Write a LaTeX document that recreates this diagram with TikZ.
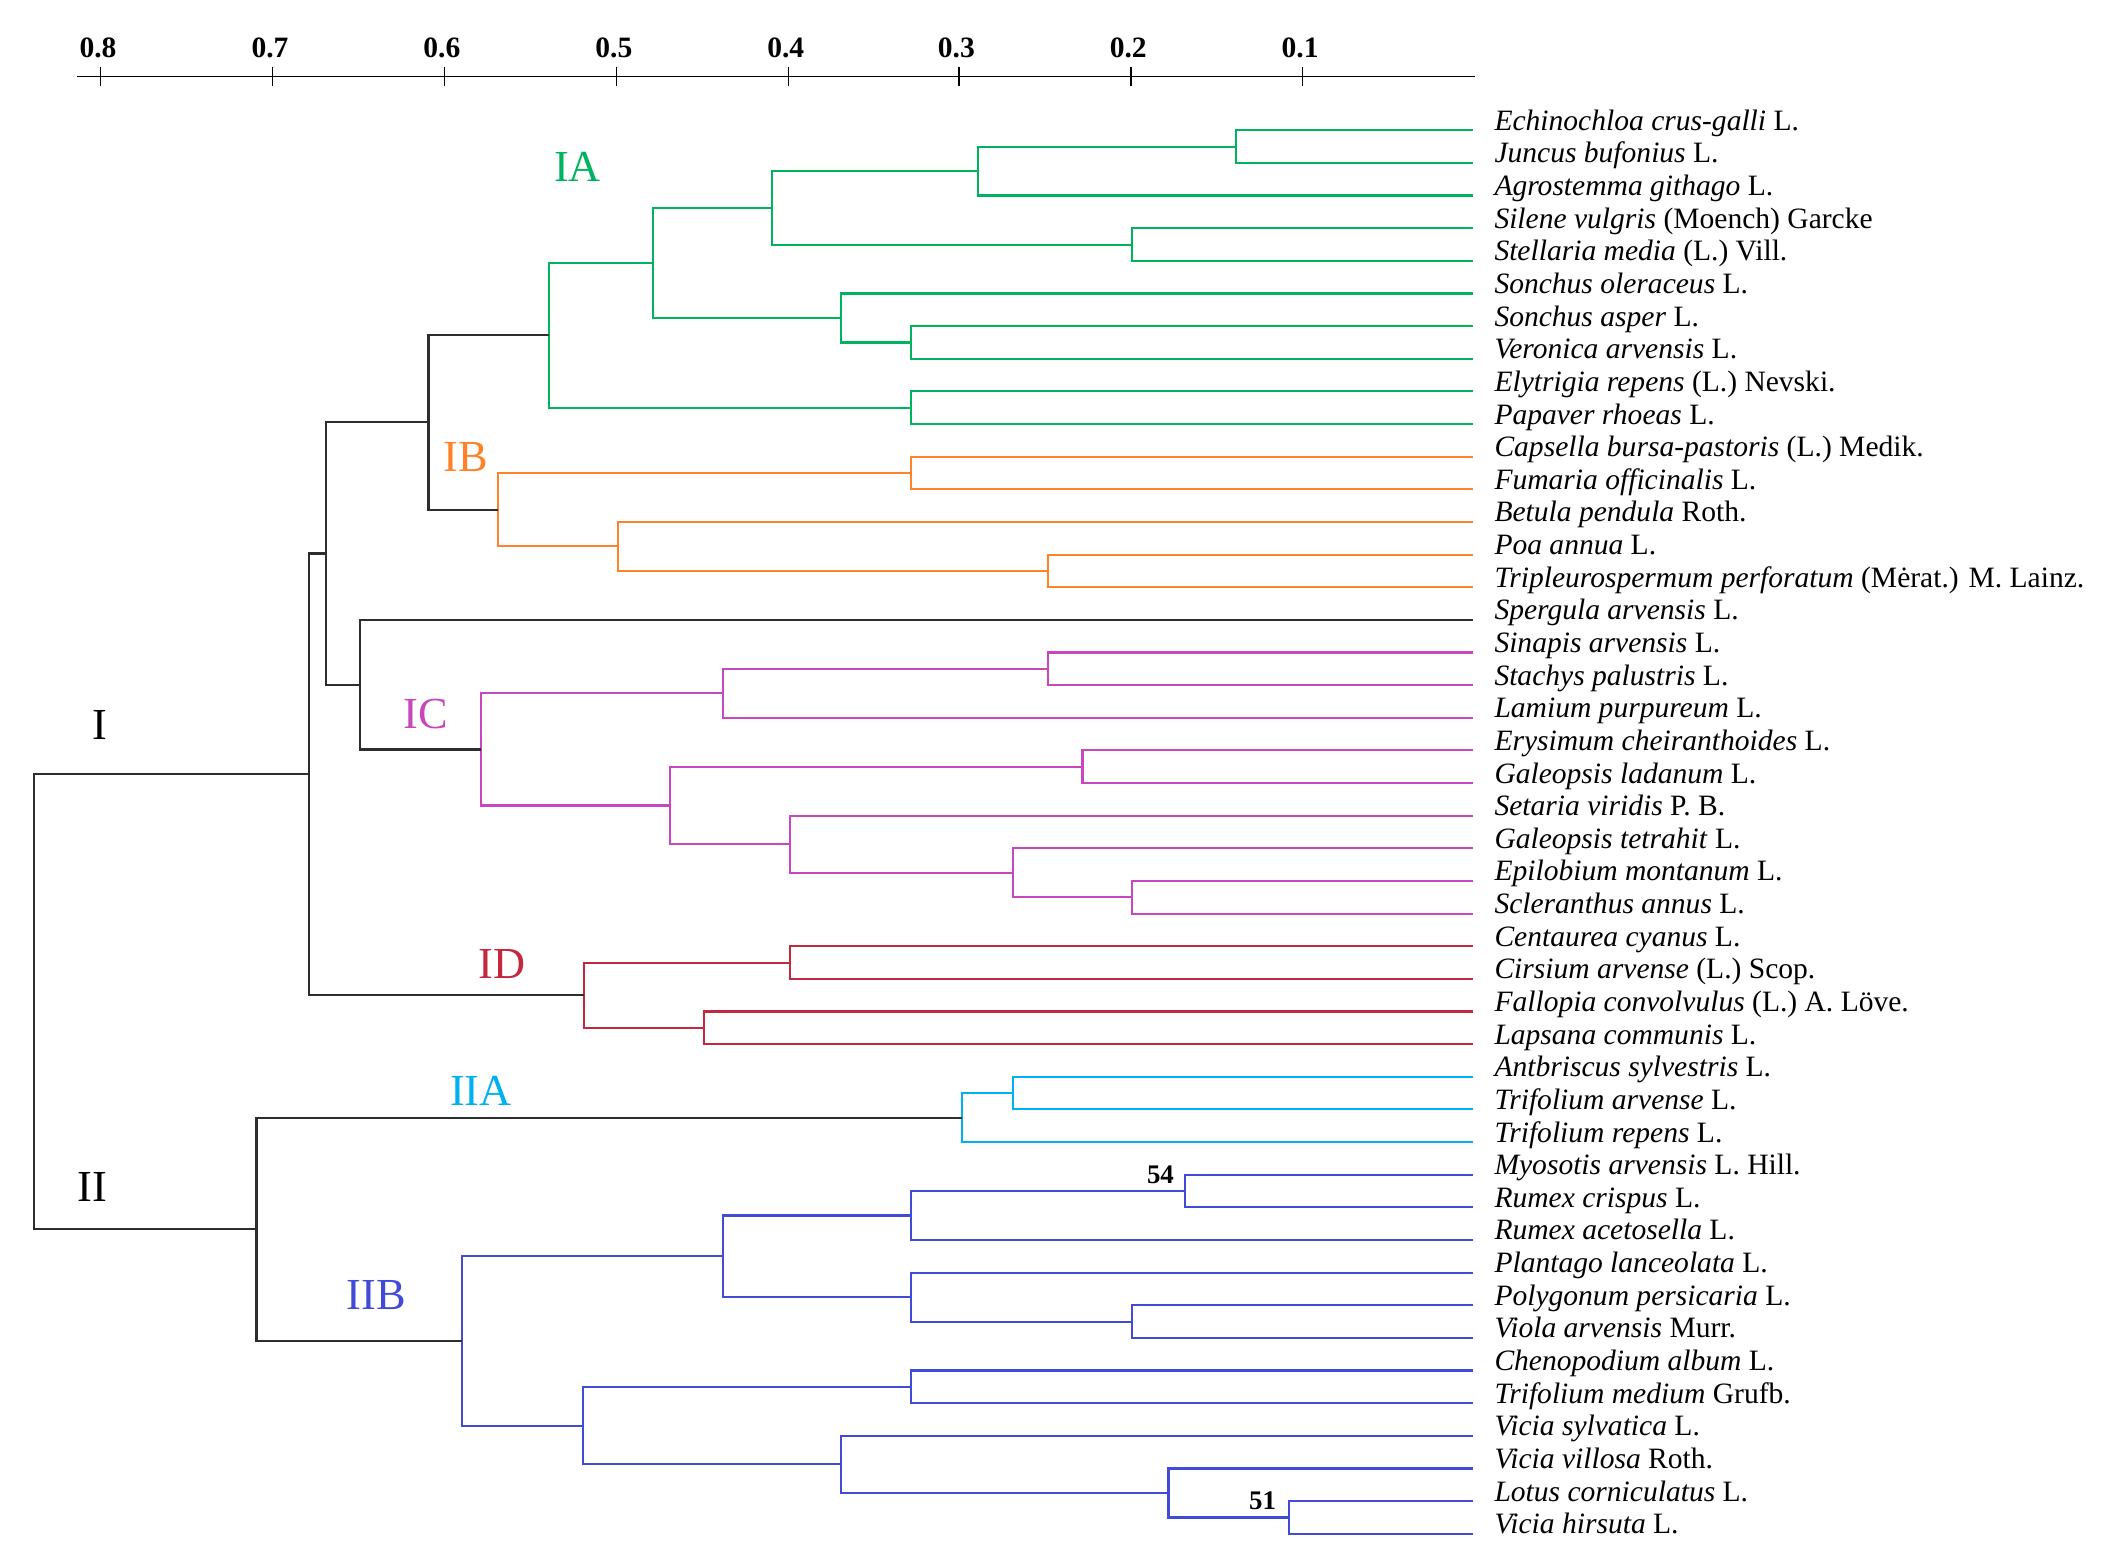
\documentclass[tikz,border=0pt]{standalone}
\usepackage{fontspec}
\usepackage{xcolor}
\usepackage{tikz}
\setmainfont{Liberation Serif}

\definecolor{clA}{RGB}{0,180,95}
\definecolor{clB}{RGB}{255,130,40}
\definecolor{clC}{RGB}{200,70,190}
\definecolor{clD}{RGB}{195,40,65}
\definecolor{clIIA}{RGB}{0,176,240}
\definecolor{clIIB}{RGB}{65,75,215}
\definecolor{trunk}{RGB}{45,45,45}

\begin{document}
\begin{tikzpicture}[x=1pt,y=-1pt,
  link/.style={line width=1.6pt},
  leaf/.style={anchor=base west, inner xsep=15.5pt, inner ysep=0pt, font=\fontsize{22}{24}\selectfont},
  clus/.style={font=\fontsize{33}{36}\selectfont},
  boot/.style={font=\bfseries\fontsize{20}{22}\selectfont},
  scalelbl/.style={font=\bfseries\fontsize{22}{24}\selectfont}]
\useasboundingbox (0,0) rectangle (1568,1161);

% Distance scale
\draw[line width=1.3pt] (57,57) -- (1098,57);
\draw[line width=0.9pt] (75,50) -- (75,64);
\draw[line width=0.9pt] (203,50) -- (203,64);
\draw[line width=0.9pt] (331,50) -- (331,64);
\draw[line width=0.9pt] (459,50) -- (459,64);
\draw[line width=0.9pt] (587,50) -- (587,64);
\draw[line width=0.9pt] (714,50) -- (714,64);
\draw[line width=0.9pt] (842,50) -- (842,64);
\draw[line width=0.9pt] (970,50) -- (970,64);
\node[scalelbl] (s8) at (73,36) {0.8};
\node[scalelbl] (s7) at (201,36) {0.7};
\node[scalelbl] (s6) at (329,36) {0.6};
\node[scalelbl] (s5) at (457,36) {0.5};
\node[scalelbl] (s4) at (585,36) {0.4};
\node[scalelbl] (s3) at (712,36) {0.3};
\node[scalelbl] (s2) at (840,36) {0.2};
\node[scalelbl] (s1) at (968,36) {0.1};

% Species
\node[leaf] (echin) at (1097,97) {\textit{Echinochloa crus-galli} L.};
\node[leaf] (juncus) at (1097,121.3) {\textit{Juncus bufonius} L.};
\node[leaf] (agros) at (1097,145.6) {\textit{Agrostemma githago} L.};
\node[leaf] (silene) at (1097,169.9) {\textit{Silene vulgris} (Moench) Garcke};
\node[leaf] (stell) at (1097,194.2) {\textit{Stellaria media} (L.) Vill.};
\node[leaf] (sonole) at (1097,218.5) {\textit{Sonchus oleraceus} L.};
\node[leaf] (sonasp) at (1097,242.8) {\textit{Sonchus asper} L.};
\node[leaf] (veron) at (1097,267.1) {\textit{Veronica arvensis} L.};
\node[leaf] (elytr) at (1097,291.4) {\textit{Elytrigia repens} (L.) Nevski.};
\node[leaf] (papav) at (1097,315.7) {\textit{Papaver rhoeas} L.};
\node[leaf] (capse) at (1097,340) {\textit{Capsella bursa-pastoris} (L.) Medik.};
\node[leaf] (fumar) at (1097,364.3) {\textit{Fumaria officinalis} L.};
\node[leaf] (betul) at (1097,388.6) {\textit{Betula pendula} Roth.};
\node[leaf] (poa) at (1097,412.9) {\textit{Poa annua} L.};
\node[leaf] (tripl) at (1097,437.2) {\textit{Tripleurospermum perforatum} (Mėrat.) M. Lainz.};
\node[leaf] (sperg) at (1097,461.5) {\textit{Spergula arvensis} L.};
\node[leaf] (sinap) at (1097,485.8) {\textit{Sinapis arvensis} L.};
\node[leaf] (stach) at (1097,510.1) {\textit{Stachys palustris} L.};
\node[leaf] (lamiu) at (1097,534.4) {\textit{Lamium purpureum} L.};
\node[leaf] (erysi) at (1097,558.7) {\textit{Erysimum cheiranthoides} L.};
\node[leaf] (galad) at (1097,583) {\textit{Galeopsis ladanum} L.};
\node[leaf] (setar) at (1097,607.3) {\textit{Setaria viridis} P. B.};
\node[leaf] (gatet) at (1097,631.6) {\textit{Galeopsis tetrahit} L.};
\node[leaf] (epilo) at (1097,655.9) {\textit{Epilobium montanum} L.};
\node[leaf] (scler) at (1097,680.2) {\textit{Scleranthus annus} L.};
\node[leaf] (centa) at (1097,704.5) {\textit{Centaurea cyanus} L.};
\node[leaf] (cirsi) at (1097,728.8) {\textit{Cirsium arvense} (L.) Scop.};
\node[leaf] (fallo) at (1097,753.1) {\textit{Fallopia convolvulus} (L.) A. Löve.};
\node[leaf] (lapsa) at (1097,777.4) {\textit{Lapsana communis} L.};
\node[leaf] (anthr) at (1097,801.7) {\textit{Antbriscus sylvestris} L.};
\node[leaf] (trarv) at (1097,826) {\textit{Trifolium arvense} L.};
\node[leaf] (trrep) at (1097,850.3) {\textit{Trifolium repens} L.};
\node[leaf] (myoso) at (1097,874.6) {\textit{Myosotis arvensis} L. Hill.};
\node[leaf] (rucri) at (1097,898.9) {\textit{Rumex crispus} L.};
\node[leaf] (ruace) at (1097,923.2) {\textit{Rumex acetosella} L.};
\node[leaf] (plant) at (1097,947.5) {\textit{Plantago lanceolata} L.};
\node[leaf] (polyg) at (1097,971.8) {\textit{Polygonum persicaria} L.};
\node[leaf] (viola) at (1097,996.1) {\textit{Viola arvensis} Murr.};
\node[leaf] (cheno) at (1097,1020.4) {\textit{Chenopodium album} L.};
\node[leaf] (trmed) at (1097,1044.7) {\textit{Trifolium medium} Grufb.};
\node[leaf] (visyl) at (1097,1069) {\textit{Vicia sylvatica} L.};
\node[leaf] (vivil) at (1097,1093.3) {\textit{Vicia villosa} Roth.};
\node[leaf] (lotus) at (1097,1117.6) {\textit{Lotus corniculatus} L.};
\node[leaf] (vihir) at (1097,1141.9) {\textit{Vicia hirsuta} L.};

% Joins
\coordinate (a1) at (920,109.2);
\coordinate (a2) at (728,127.4);
\coordinate (a3) at (843,182.1);
\coordinate (a4) at (575,154.8);
\coordinate (a5) at (678,255);
\coordinate (a6) at (626,236.7);
\coordinate (a7) at (486,195.7);
\coordinate (a8) at (678,303.6);
\coordinate (ia) at (409,249.6);
\coordinate (b1) at (678,352.2);
\coordinate (b2) at (780,425);
\coordinate (b3) at (460,406.8);
\coordinate (ib) at (371,379.5);
\coordinate (ab) at (319,314.5);
\coordinate (c1) at (780,498);
\coordinate (c2) at (538,516.2);
\coordinate (c3) at (806,570.9);
\coordinate (c4) at (843,668);
\coordinate (c5) at (754,649.8);
\coordinate (c6) at (588,628.6);
\coordinate (c7) at (499,599.7);
\coordinate (ic) at (358,558);
\coordinate (sc) at (268,509.7);
\coordinate (abc) at (243,412.1);
\coordinate (d1) at (588,716.7);
\coordinate (d2) at (524,765.3);
\coordinate (id) at (435,741);
\coordinate (gI) at (230,576.5);
\coordinate (e1) at (754,813.9);
\coordinate (iia) at (716,832.1);
\coordinate (f1) at (882,886.8);
\coordinate (f2) at (678,905);
\coordinate (f3) at (843,984);
\coordinate (f4) at (678,965.7);
\coordinate (f5) at (538,935.4);
\coordinate (f6) at (678,1032.6);
\coordinate (f7) at (960,1129.8);
\coordinate (f8) at (870,1111.5);
\coordinate (f9) at (626,1090.3);
\coordinate (f10) at (434,1061.4);
\coordinate (iib) at (344,998.4);
\coordinate (gII) at (191,915.2);
\coordinate (root) at (25,745.9);

% Cluster IA
\draw[link, clA] (echin.base west) -| (a1) |- (juncus.base west);
\draw[link, clA] (a1) -| (a2) |- (agros.base west);
\draw[link, clA] (silene.base west) -| (a3) |- (stell.base west);
\draw[link, clA] (a2) -| (a4) |- (a3);
\draw[link, clA] (sonasp.base west) -| (a5) |- (veron.base west);
\draw[link, clA] (sonole.base west) -| (a6) |- (a5);
\draw[link, clA] (a4) -| (a7) |- (a6);
\draw[link, clA] (elytr.base west) -| (a8) |- (papav.base west);
\draw[link, clA] (a7) -| (ia) |- (a8);

% Cluster IB
\draw[link, clB] (capse.base west) -| (b1) |- (fumar.base west);
\draw[link, clB] (poa.base west) -| (b2) |- (tripl.base west);
\draw[link, clB] (betul.base west) -| (b3) |- (b2);
\draw[link, clB] (b1) -| (ib) |- (b3);

% Cluster IC
\draw[link, clC] (sinap.base west) -| (c1) |- (stach.base west);
\draw[link, clC] (c1) -| (c2) |- (lamiu.base west);
\draw[link, clC] (erysi.base west) -| (c3) |- (galad.base west);
\draw[link, clC] (epilo.base west) -| (c4) |- (scler.base west);
\draw[link, clC] (gatet.base west) -| (c5) |- (c4);
\draw[link, clC] (setar.base west) -| (c6) |- (c5);
\draw[link, clC] (c3) -| (c7) |- (c6);
\draw[link, clC] (c2) -| (ic) |- (c7);

% Cluster ID
\draw[link, clD] (centa.base west) -| (d1) |- (cirsi.base west);
\draw[link, clD] (fallo.base west) -| (d2) |- (lapsa.base west);
\draw[link, clD] (d1) -| (id) |- (d2);

% Cluster IIA
\draw[link, clIIA] (anthr.base west) -| (e1) |- (trarv.base west);
\draw[link, clIIA] (e1) -| (iia) |- (trrep.base west);

% Cluster IIB
\draw[link, clIIB] (myoso.base west) -| (f1) |- (rucri.base west);
\draw[link, clIIB] (f1) -| (f2) |- (ruace.base west);
\draw[link, clIIB] (polyg.base west) -| (f3) |- (viola.base west);
\draw[link, clIIB] (plant.base west) -| (f4) |- (f3);
\draw[link, clIIB] (f2) -| (f5) |- (f4);
\draw[link, clIIB] (cheno.base west) -| (f6) |- (trmed.base west);
\draw[link, clIIB] (lotus.base west) -| (f7) |- (vihir.base west);
\draw[link, clIIB] (vivil.base west) -| (f8) |- (f7);
\draw[link, clIIB] (visyl.base west) -| (f9) |- (f8);
\draw[link, clIIB] (f6) -| (f10) |- (f9);
\draw[link, clIIB] (f5) -| (iib) |- (f10);

% Upper joins
\draw[link, trunk] (ia) -| (ab) |- (ib);
\draw[link, trunk] (sperg.base west) -| (sc) |- (ic);
\draw[link, trunk] (ab) -| (abc) |- (sc);
\draw[link, trunk] (abc) -| (gI) |- (id);
\draw[link, trunk] (iia) -| (gII) |- (iib);
\draw[link, trunk] (gI) -| (root) |- (gII);

% Group labels
\node[clus, clA] (lIA) at (430,124) {IA};
\node[clus, clB] (lIB) at (347,340) {IB};
\node[clus, clC] (lIC) at (317,532) {IC};
\node[clus, clD] (lID) at (374,718) {ID};
\node[clus] (lI) at (74,540) {I};
\node[clus, clIIA] (lIIA) at (358,812) {IIA};
\node[clus, clIIB] (lIIB) at (280,964) {IIB};
\node[clus] (lII) at (69,884) {II};

% Bootstrap values
\node[boot] (b54) at (864,875) {54};
\node[boot] (b51) at (940,1117) {51};

\end{tikzpicture}
\end{document}
